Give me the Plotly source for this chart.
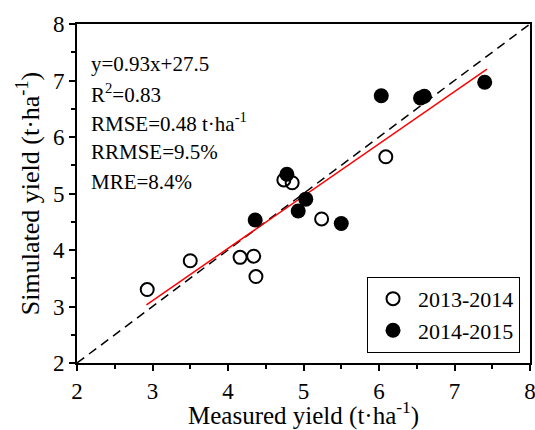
import plotly.graph_objects as go

# 2013-2014 season (open circles)
meas_1314 = [2.93, 3.50, 4.16, 4.34, 4.37, 4.74, 4.85, 5.24, 6.09]
sim_1314 = [3.30, 3.81, 3.87, 3.89, 3.53, 5.24, 5.19, 4.55, 5.65]

# 2014-2015 season (filled circles)
meas_1415 = [4.36, 4.78, 4.93, 5.03, 5.50, 6.03, 6.55, 6.60, 7.40]
sim_1415 = [4.53, 5.34, 4.69, 4.90, 4.47, 6.73, 6.69, 6.72, 6.97]

# regression line and 1:1 line
fit_x = [2.92, 7.43]
fit_y = [3.03, 7.20]
one_x = [2, 8]
one_y = [2, 8]

stats_text = [
    "y=0.93x+27.5",
    "R<sup>2</sup>=0.83",
    "RMSE=0.48 t·ha<sup>-1</sup>",
    "RRMSE=9.5%",
    "MRE=8.4%",
]

FONT = "Liberation Serif"

fig = go.Figure()
fig.add_trace(go.Scatter(x=one_x, y=one_y, mode="lines",
                         line=dict(color="black", dash="9px,6px", width=1.5),
                         showlegend=False, hoverinfo="skip"))
fig.add_trace(go.Scatter(x=fit_x, y=fit_y, mode="lines",
                         line=dict(color="red", width=1.5),
                         showlegend=False, hoverinfo="skip"))
fig.add_trace(go.Scatter(x=meas_1314, y=sim_1314, mode="markers", name="2013-2014",
                         marker=dict(symbol="circle-open", size=13, color="black",
                                     line=dict(width=2, color="black"))))
fig.add_trace(go.Scatter(x=meas_1415, y=sim_1415, mode="markers", name="2014-2015",
                         marker=dict(symbol="circle", size=15, color="black")))

ypos = [0.883, 0.795, 0.708, 0.622, 0.535]
for t, yp in zip(stats_text, ypos):
    fig.add_annotation(text=t, xref="paper", yref="paper", x=0.027, y=yp,
                       xanchor="left", yanchor="middle", showarrow=False,
                       font=dict(family=FONT, size=21, color="black"))

# x-axis title as an annotation for precise placement
fig.add_annotation(text="Measured yield (t·ha<sup>-1</sup>)", xref="paper", yref="paper",
                   x=0.5, y=-0.203, xanchor="center", yanchor="bottom", showarrow=False,
                   font=dict(family=FONT, size=25, color="black"))

axis_common = dict(
    showgrid=False, zeroline=False, showline=True, linecolor="black", linewidth=2,
    mirror=True, ticks="outside", ticklen=6, tickwidth=1.5, tickcolor="black",
    range=[2, 8], dtick=1, automargin=False, ticklabeloverflow="allow",
    tickfont=dict(family=FONT, size=23, color="black"),
    minor=dict(ticks="outside", ticklen=4, tickwidth=1.5, tickcolor="black", dtick=0.5),
)

fig.update_layout(
    width=535, height=430,
    margin=dict(l=77, r=5, t=24, b=67),
    paper_bgcolor="white", plot_bgcolor="white",
    xaxis=dict(**axis_common),
    yaxis=dict(**axis_common,
               title=dict(text="Simulated yield (t·ha<sup>-1</sup>)",
                          font=dict(family=FONT, size=26, color="black"), standoff=6)),
    legend=dict(x=0.978, y=0.03, xanchor="right", yanchor="bottom",
                bordercolor="black", borderwidth=1, bgcolor="white",
                font=dict(family=FONT, size=22, color="black"),
                itemwidth=40, tracegroupgap=0),
)

fig.write_html("out.html")
